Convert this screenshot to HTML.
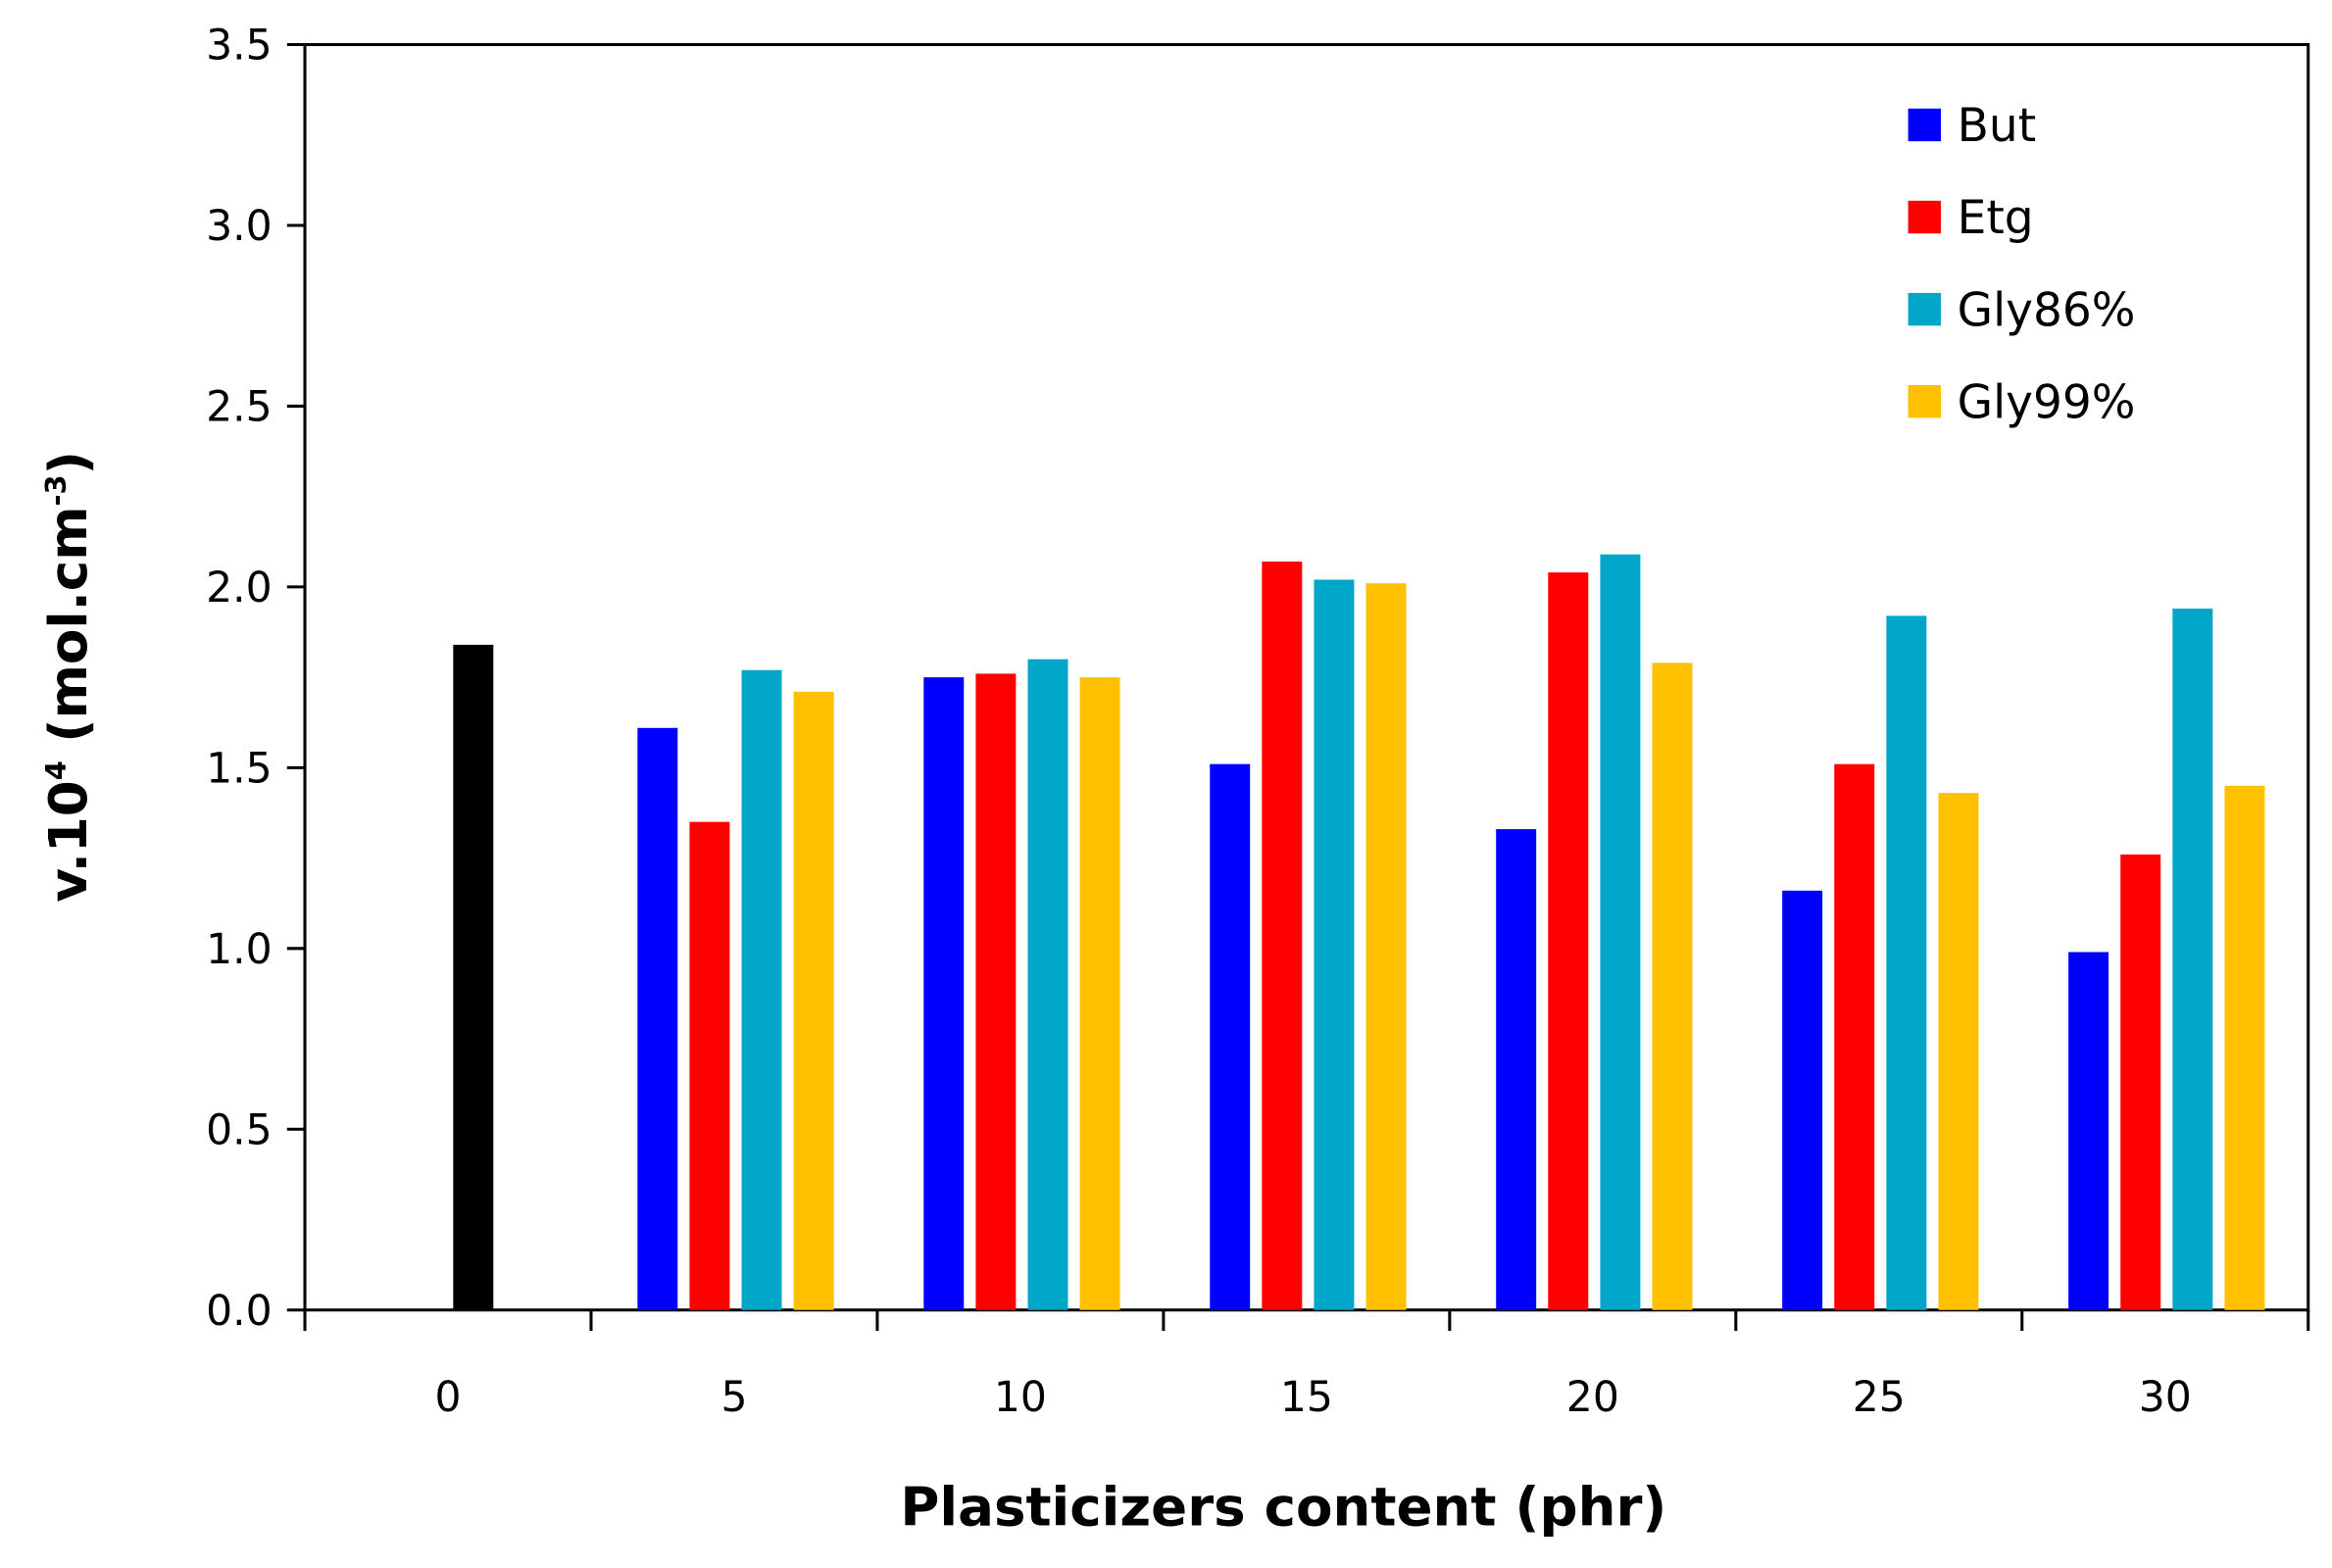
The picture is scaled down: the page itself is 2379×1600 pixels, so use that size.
<!DOCTYPE html>
<html><head><meta charset="utf-8"><style>
html,body{margin:0;padding:0;background:#fff;}
svg{display:block;font-family:"DejaVu Sans","Liberation Sans",sans-serif;}
</style></head><body>
<svg id="chart" width="2379" height="1600" viewBox="0 0 1568 1054.5" preserveAspectRatio="none" xmlns="http://www.w3.org/2000/svg">
<g id="axes"></g><g id="bars"></g><g id="legend"></g>
<text x="863" y="1026" text-anchor="middle" font-size="36" font-weight="bold">Plasticizers content (phr)</text>
<text transform="translate(58,455) rotate(-90)" text-anchor="middle" font-size="35" font-weight="bold">v.10<tspan font-size="19" dy="-14">4</tspan><tspan dy="14"> (mol.cm</tspan><tspan font-size="19" dy="-14">-3</tspan><tspan dy="14">)</tspan></text>
</svg>
<script>
const categories = ["0","5","10","15","20","25","30"];
const seriesNames = ["But","Etg","Gly86%","Gly99%"];
const colors = ["#0000FF","#FF0000","#00A6C8","#FFC000"];
const controlValue = 1.84;
const butValues = [null,1.61,1.75,1.51,1.33,1.16,0.99];
const etgValues = [null,1.35,1.76,2.07,2.04,1.51,1.26];
const gly86Values = [null,1.77,1.80,2.02,2.09,1.92,1.94];
const gly99Values = [null,1.71,1.75,2.01,1.79,1.43,1.45];
const yTicks = ["0.0","0.5","1.0","1.5","2.0","2.5","3.0","3.5"];
const series = [butValues, etgValues, gly86Values, gly99Values];

const NS = "http://www.w3.org/2000/svg";
const L = 205, R = 1552, T = 30, B = 881, yMax = 3.5;
const bw = (R - L) / categories.length;
const y = v => B - (v / yMax) * (B - T);
const xc = i => L + bw * (i + 0.5);
function mk(tag, attrs, parent) {
  const e = document.createElementNS(NS, tag);
  for (const k in attrs) e.setAttribute(k, attrs[k]);
  parent.appendChild(e); return e;
}
const axes = document.getElementById('axes');
const bars = document.getElementById('bars');
const legend = document.getElementById('legend');

const frame = mk('rect', {x:L, y:T, width:R-L, height:B-T, fill:'none', stroke:'#000', 'stroke-width':2}, axes);


yTicks.forEach(t => {
  const yy = y(parseFloat(t));
  const tk = mk('line', {x1:L-12, x2:L, y1:yy, y2:yy, stroke:'#000', 'stroke-width':2}, axes);
  
  
  const lb = mk('text', {x:L-22, y:yy+10, 'text-anchor':'end', 'font-size':28}, axes);
  lb.textContent = t;
  
  
});
for (let i = 0; i <= categories.length; i++) {
  const xx = L + bw * i;
  const tk = mk('line', {x1:xx, x2:xx, y1:B, y2:B+14, stroke:'#000', 'stroke-width':2}, axes);
  
  
}
categories.forEach((c, i) => {
  const lb = mk('text', {x:xc(i), y:949, 'text-anchor':'middle', 'font-size':28}, axes);
  lb.textContent = c;
  
  
});
const barW = 27, step = 35;
const cb = mk('rect', {x:xc(0)+17-barW/2, y:y(controlValue), width:barW, height:B-y(controlValue), fill:'#000'}, bars);


series.forEach((vals, s) => {
  vals.forEach((v, i) => {
    if (v === null) return;
    const cx = xc(i) + (s - 1.5) * step + 1;
    const r = mk('rect', {x:cx-barW/2, y:y(v), width:barW, height:B-y(v), fill:colors[s]}, bars);
    
    
  });
});
seriesNames.forEach((n, s) => {
  const yy = 84 + s * 62;
  const sw = mk('rect', {x:1283, y:yy-11, width:22, height:22, fill:colors[s]}, legend);
  
  
  const t = mk('text', {x:1316, y:yy+11, 'font-size':31}, legend);
  t.textContent = n;
  
  
});
</script>
</body></html>
